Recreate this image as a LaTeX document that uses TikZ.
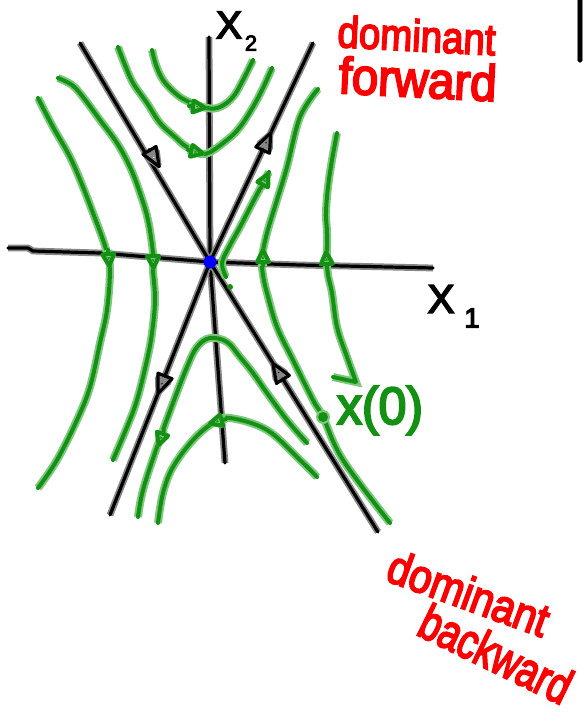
\documentclass[tikz,border=0pt]{standalone}
\usepackage{fontspec}
\setmainfont{Liberation Sans}
\newfontfamily\hfCore[FakeBold=4]{Liberation Sans}
\usetikzlibrary{arrows.meta}
\definecolor{grncore}{RGB}{20,145,20}
\definecolor{grnhalo}{RGB}{125,200,125}
\definecolor{redcore}{RGB}{250,0,0}
\definecolor{blkhalo}{RGB}{135,135,135}
\definecolor{dotblue}{RGB}{0,0,255}
\newcommand\penText[2]{{\color{#1}\hfCore #2}}
\begin{document}
\begin{tikzpicture}[x=1pt,y=-1pt,
  blk/.style={draw=black, line width=3.2pt, line cap=round, line join=round,
    preaction={draw=blkhalo, line width=6.8pt}},
  grn/.style={draw=grncore, line width=4pt, line cap=round, line join=round,
    preaction={draw=grnhalo, line width=8pt}},
  barr/.style={blk, -{Triangle[open, length=25pt, width=19pt, round]}},
  garr/.style={grn, -{Triangle[open, length=19pt, width=17pt, round]}},
  lbl/.style={inner sep=0pt, outer sep=0pt},
  traj/.style={grn},
]
\fill[white] (0,0) rectangle (582,720);
\useasboundingbox (0,0) rectangle (582,720);

% named points
\coordinate (O) at (210,262);
\coordinate (x1s) at (8,248);
\coordinate (x1e) at (433,268);
\coordinate (x2s) at (209,37);
\coordinate (x2e) at (225,463);
\coordinate (s1) at (80,43);
\coordinate (s2) at (378,532);
\coordinate (u1) at (313,43);
\coordinate (u2) at (110,515);
\coordinate (edgeA) at (580,-5);
\coordinate (edgeB) at (580,61);

% axes and eigen-directions
\draw[blk] (x1s) -- (28,248) -- (33,251) -- (100,253) -- (O) -- (300,265) -- (x1e);
\draw[blk] (x2s) -- (O) -- (x2e);
\draw[blk] (s1) -- (O) -- (s2);
\draw[blk] (u1) -- (O) -- (u2);
\draw[blk] (edgeA) -- (edgeB);

% trajectories
\draw[traj] plot[smooth, tension=0.6] coordinates {(152,50) (156,65) (163,80) (175,93) (187,101) (207,108) (220,107) (233,97) (243,80) (253,60)};
\draw[traj] plot[smooth, tension=0.6] coordinates {(118,47) (125,65) (133,83) (147,103) (160,123) (175,137) (187,147) (205,154) (227,140) (240,127) (253,107) (263,88) (272,68)};
\draw[traj] plot[smooth, tension=0.6] coordinates {(38,98) (53,127) (70,157) (83,187) (93,213) (102,237) (107,253) (110,270) (107,310) (100,343) (90,387) (77,420) (57,460) (38,488)};
\draw[traj] plot[smooth, tension=0.6] coordinates {(58,78) (72,85) (83,97) (100,120) (117,143) (130,167) (140,193) (148,220) (153,253) (153,270) (155,300) (152,333) (147,360) (137,400) (127,427) (113,460)};
\draw[traj] plot[smooth, tension=0.6] coordinates {(138,517) (143,490) (157,447) (173,403) (187,367) (197,347) (210,338) (227,342) (240,357) (253,373) (267,393) (287,420) (307,443)};
\draw[traj] plot[smooth, tension=0.6] coordinates {(158,523) (163,493) (173,467) (193,440) (213,423) (230,418) (267,430) (300,460) (317,477)};
\draw[traj] plot[smooth, tension=0.6] coordinates {(226,277) (222,263) (229,247) (240,227) (254,200) (269,172)};
\draw[traj] plot[smooth, tension=0.6] coordinates {(318,89) (300,117) (287,167) (277,200) (267,233) (262,258) (263,275) (267,293) (277,327) (293,360) (313,400) (323,417) (343,460) (390,523)};
\draw[traj] plot[smooth, tension=0.6] coordinates {(337,133) (332,160) (328,187) (326,213) (327,233) (327,260) (328,275) (332,293) (337,327) (347,357) (356,382)} -- (333,377);

% points
\fill[dotblue] (O) circle (6.5);
\fill[grnhalo] (323,417) circle (7);
\fill[grncore] (323,417) circle (5);
\fill[grncore] (230,287) circle (3);

% arrowheads on the eigen-directions
\draw[barr] (149.8,150.8) -- (160,168);
\draw[barr] (282.6,379) -- (272,362);
\draw[barr] (262.9,149.6) -- (271.4,131.5);
\draw[barr] (164.8,376.4) -- (157.4,395);

% arrowheads on trajectories
\draw[garr] (189,106) -- (207,108);
\draw[garr] (188,150) -- (205,154);
\draw[garr] (108,250) -- (109.5,268);
\draw[garr] (153,252) -- (153.5,270);
\draw[garr] (163.8,430) -- (158,447);
\draw[garr] (226,419) -- (208,424);
\draw[garr] (261,188) -- (269,172);
\draw[garr] (263,266) -- (263,248);
\draw[garr] (327,268) -- (326,250);

% labels
\node[lbl] (X2) at (229,25) {\fontsize{39}{39}\selectfont\penText{black}{X}};
\node[lbl] (X2sub) at (251,43) {\fontsize{22}{22}\selectfont\penText{black}{2}};
\node[lbl] (X1) at (441,299) {\fontsize{40}{40}\selectfont\penText{black}{X}};
\node[lbl] (X1sub) at (472,318) {\fontsize{28}{28}\selectfont\penText{black}{1}};
\node[lbl, anchor=base west] (x0) at (337,424) {\resizebox{86pt}{38pt}{\penText{grncore}{x(0)}}};
\node[lbl, anchor=base west, rotate=-3] (domF) at (337,47) {\resizebox{158pt}{32pt}{\penText{redcore}{dominant}}};
\node[lbl, anchor=base west, rotate=-3] (fwdF) at (338,93) {\resizebox{158pt}{37pt}{\penText{redcore}{forward}}};
\node[lbl, anchor=base west, rotate=-20] (domB) at (384,580) {\resizebox{168pt}{34pt}{\penText{redcore}{dominant}}};
\node[lbl, anchor=base west, rotate=-26] (bwdB) at (415,634) {\resizebox{163pt}{36pt}{\penText{redcore}{backward}}};
\end{tikzpicture}
\end{document}
